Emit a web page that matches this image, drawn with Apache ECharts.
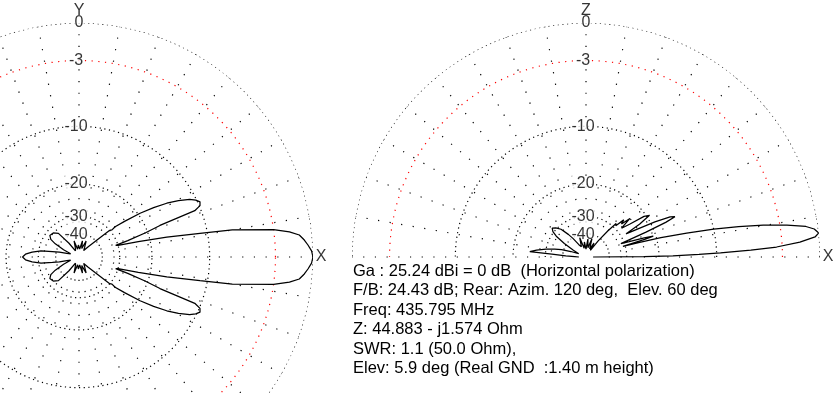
<!DOCTYPE html>
<html><head><meta charset="utf-8">
<script src="https://cdn.jsdelivr.net/npm/echarts@6/dist/echarts.min.js"></script>
<style>html,body{margin:0;padding:0;background:#fff}#c{width:837px;height:393px}</style>
</head><body><div id="c"></div>
<script>
// ---- grid / tick data ----
const RING_DB = [0, -3, -10, -20, -30];
const RED_RING_DB = -3;
const LABEL_DB = [0, -3, -10, -20, -30, -40];
const RING_LABELS = ['0', '-3', '-10', '-20', '-30', '-40'];
const SPOKE_INNER_DB = -40;
const AZ_SPOKES = [0,10,20,30,40,50,60,70,80,90,100,110,120,130,140,150,160,170,180,190,200,210,220,230,240,250,260,270,280,290,300,310,320,330,340,350];
const EL_SPOKES = [0,10,20,30,40,50,60,70,80,90,100,110,120,130,140,150,160,170,180];
const AZ_AXIS_NAMES = ['X', 'Y'];
const EL_AXIS_NAMES = ['X', 'Z'];

// ---- azimuth pattern (deg, dB) ----
const AZ_ANGLE = [0,1.5,3,4.3,5.7,6.8,8,10,11.1,12.7,14.5,16.6,17.5,18.5,20,21.3,21.8,23,24.5,26,27.5,29.5,31.5,33.5,35.6,38,40,39.4,41,44,48,54,60,66,72,78,85,93,100,107,113,120,126,131,137,143.5,148,151,155,159,163,166,168.5,171,174,177,180,
  183,186,189,191.5,194,197,201,205,209,212,216.5,223,229,234,240,247,253,260,267,275,282,288,294,300,306,312,316,319,320.6,320,322,324.4,326.5,328.5,330.5,332.5,334,335.5,337,338.2,338.7,340,341.5,342.5,343.4,345.5,347.3,348.9,350,352,353.2,354.3,355.7,357,358.5,360];
const AZ_DB = [0,-0.1,-0.35,-0.6,-0.95,-1.7,-3,-7,-11,-16.4,-23,-30,-31,-26,-20.5,-17,-10.8,-9.9,-9.7,-10.1,-10.8,-12.3,-14.1,-16.5,-19.5,-24,-27.5,-29.2,-30,-40,-48.6,-58,-52,-44.5,-56,-45.5,-58,-51,-58,-45.2,-56,-60,-45,-34.5,-32.5,-32,-33.5,-37,-45,-56,-50,-42,-37,-31,-27.5,-25.3,-24.4,
  -25.3,-27.5,-31,-37,-42,-50,-56,-45,-37,-33.5,-32,-32.5,-34.5,-45,-60,-56,-45.2,-58,-51,-58,-45.5,-56,-44.5,-52,-58,-48.6,-40,-30,-29.2,-27.5,-24,-19.5,-16.5,-14.1,-12.3,-10.8,-10.1,-9.7,-9.9,-10.8,-17,-20.5,-26,-31,-30,-23,-16.4,-11,-7,-3,-1.7,-0.95,-0.6,-0.35,-0.1,0];

// ---- elevation pattern (deg, dB) ----
const EL_ANGLE = [0,0.4,0.8,1.3,1.8,2.4,3,4,5,5.9,7,7.9,9,10.2,11.3,12.3,13.4,14.5,15.4,16.2,16.8,17.3,18.2,19.5,21,22.5,23.5,24.4,25.5,27,28.5,30,31.5,33.3,35,37,39,41.3,43,44.5,46.5,48,50,53,57,60,66,72,78,84,90,96,102,108,114,120,125,128,132,136,139.5,142.5,145,148,152,156,160,163,166,169,172,174.6,175.3,176.5,178,180];
const EL_DB = [-60,-24,-17,-12.5,-9.5,-6,-3.5,-1.5,-0.3,0,-0.3,-0.9,-2.4,-4.5,-7,-10,-14,-19,-25,-31,-23,-20.6,-23,-28,-31.5,-22,-17,-15,-15.8,-19,-24,-27.6,-22.5,-19.3,-20.5,-25,-28,-23.8,-27,-25.5,-29,-28.3,-33,-42,-58,-46,-56,-43,-55,-44,-58,-47,-56,-42,-52,-48,-40,-36,-31.5,-29.5,-28.5,-29.6,-32,-38,-48,-58,-46,-38,-34,-30,-26.5,-24.4,-33,-42,-52,-60];

const INFO_LINES = [
  'Ga : 25.24 dBi = 0 dB  (Horizontal polarization)',
  'F/B: 24.43 dB; Rear: Azim. 120 deg,  Elev. 60 deg',
  'Freq: 435.795 MHz',
  'Z: 44.883 - j1.574 Ohm',
  'SWR: 1.1 (50.0 Ohm),',
  'Elev: 5.9 deg (Real GND  :1.40 m height)'
];

// ARRL log-periodic radial scale (0.89 per 2 dB)
const RAD = db => Math.pow(0.89, -db / 2);
const FONT = '"Liberation Sans", Arial, sans-serif';

function circleSeries(pi, db, maxAng, color, dash) {
  const pts = [];
  for (let a = 0; a <= maxAng; a += 1) pts.push([RAD(db), a]);
  return { type: 'line', coordinateSystem: 'polar', polarIndex: pi, data: pts, symbol: 'none',
    clip: false, silent: true, z: 1, lineStyle: { color, width: 1.2, type: dash } };
}
function spokeSeries(pi, a) {
  return { type: 'line', coordinateSystem: 'polar', polarIndex: pi,
    data: [[RAD(SPOKE_INNER_DB), a], [1, a]], symbol: 'none', clip: false, silent: true, z: 1,
    lineStyle: { color: '#000', width: 1.2, type: [1.2, 10.5] } };
}
function labelSeries(pi) {
  return { type: 'scatter', coordinateSystem: 'polar', polarIndex: pi, symbolSize: 0, clip: false, silent: true, z: 2,
    data: LABEL_DB.map((d, i) => ({ value: [RAD(d), 90], name: RING_LABELS[i],
      label: { offset: [d < 0 ? -3 : 0, 0] } })),
    label: { show: true, position: 'inside', formatter: p => p.name, color: '#000', fontSize: 16,
      fontFamily: FONT, backgroundColor: '#fff', padding: [0, 1, 0, 1] } };
}
function axisNameSeries(pi, names) {
  return { type: 'scatter', coordinateSystem: 'polar', polarIndex: pi, symbolSize: 0, clip: false, silent: true, z: 2,
    data: [{ value: [1, 0], name: names[0], label: { offset: [8, 0] } },
           { value: [1, 90], name: names[1], label: { offset: [0, -12] } }],
    label: { show: true, position: 'inside', formatter: p => p.name, color: '#000', fontSize: 16, fontFamily: FONT } };
}
function patternSeries(pi, angles, dbs) {
  return { type: 'line', coordinateSystem: 'polar', polarIndex: pi, symbol: 'none', clip: false, silent: true, z: 3,
    data: angles.map((a, i) => [RAD(dbs[i]), a]), lineStyle: { color: '#000', width: 1.25 } };
}

const series = [];
[0, 1].forEach(pi => {
  const maxAng = pi === 0 ? 360 : 180;
  RING_DB.forEach(db => {
    if (db === RED_RING_DB) series.push(circleSeries(pi, db, maxAng, '#ff0000', [1.2, 5.5]));
    else series.push(circleSeries(pi, db, maxAng, '#000', [1.2, 3.5]));
  });
  (pi === 0 ? AZ_SPOKES : EL_SPOKES).forEach(a => series.push(spokeSeries(pi, a)));
  series.push(labelSeries(pi));
  series.push(axisNameSeries(pi, pi === 0 ? AZ_AXIS_NAMES : EL_AXIS_NAMES));
});
series.push(patternSeries(0, AZ_ANGLE, AZ_DB));
series.push(patternSeries(1, EL_ANGLE, EL_DB));

const chart = echarts.init(document.getElementById('c'), null, { renderer: 'canvas' });
chart.setOption({
  animation: false,
  backgroundColor: '#fff',
  polar: [{ center: [79, 257], radius: 234 }, { center: [586, 257], radius: 234 }],
  angleAxis: [0, 1].map(pi => ({ polarIndex: pi, type: 'value', min: 0, max: 360, startAngle: 0, clockwise: false, show: false })),
  radiusAxis: [0, 1].map(pi => ({ polarIndex: pi, type: 'value', min: 0, max: 1, show: false })),
  graphic: INFO_LINES.map((t, i) => ({
    type: 'text', x: 353, y: 271 + 19.5 * i, silent: true,
    style: { text: t, fill: '#000', font: '16.5px ' + FONT, verticalAlign: 'middle', align: 'left' }
  })),
  series
});
</script></body></html>
